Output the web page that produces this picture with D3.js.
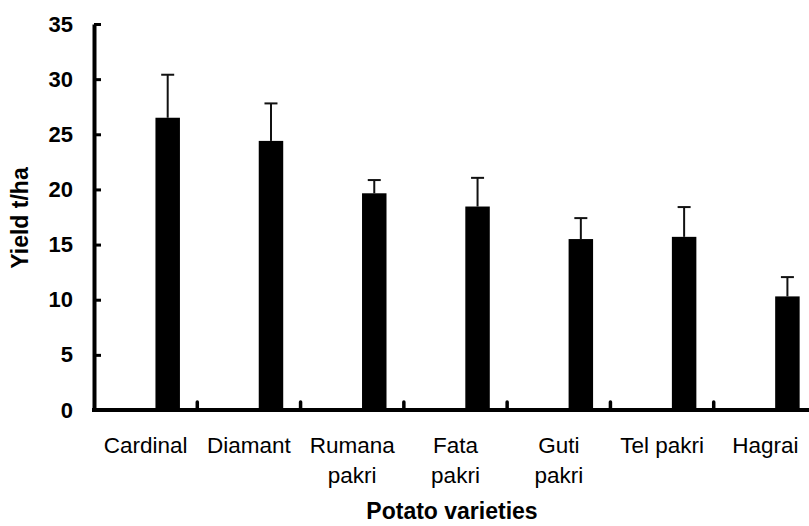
<!DOCTYPE html>
<html>
<head>
<meta charset="utf-8">
<script src="https://cdn.jsdelivr.net/npm/d3@7/dist/d3.min.js"></script>
<style>
  html, body { margin: 0; padding: 0; background: #fff; }
  svg { display: block; }
  text { font-family: "Liberation Sans", Arial, sans-serif; fill: #000; }
</style>
</head>
<body>
<svg id="chart" width="809" height="526"></svg>
<script>
// Potato variety yields (t/ha) with error bars
const varieties = ["Cardinal", "Diamant", "Rumana\npakri", "Fata\npakri", "Guti\npakri", "Tel pakri", "Hagrai"];
const yieldMeans = [26.5, 24.4, 19.65, 18.45, 15.5, 15.7, 10.3];
const yieldErrors = [3.9, 3.4, 1.2, 2.6, 1.9, 2.7, 1.75];
const yTicks = [0, 5, 10, 15, 20, 25, 30, 35];

const svg = d3.select("#chart");
const plotLeft = 94, plotRight = 817, plotTop = 24, plotBottom = 410;

const x = d3.scaleBand().domain(varieties).range([plotLeft, plotRight]).paddingInner(0).paddingOuter(0);
const y = d3.scaleLinear().domain([0, 35]).range([plotBottom, plotTop]);

// bars sit in the right-hand part of each category slot
const barStart = 0.595, barWidth = 0.237;
const bw = x.bandwidth() * barWidth;
const barX = d => x(d) + x.bandwidth() * barStart;

const data = varieties.map((v, i) => ({ name: v, mean: yieldMeans[i], err: yieldErrors[i] }));

// error bars (drawn first, bars cover the lower part)
const eb = svg.append("g").attr("stroke", "#111").attr("stroke-width", 2);
eb.selectAll("line.stem").data(data).join("line")
  .attr("class", "stem")
  .attr("x1", d => barX(d.name) + bw / 2).attr("x2", d => barX(d.name) + bw / 2)
  .attr("y1", d => y(d.mean)).attr("y2", d => y(d.mean + d.err));
eb.selectAll("line.cap").data(data).join("line")
  .attr("class", "cap")
  .attr("x1", d => barX(d.name) + bw / 2 - 6.5).attr("x2", d => barX(d.name) + bw / 2 + 6.5)
  .attr("y1", d => y(d.mean + d.err)).attr("y2", d => y(d.mean + d.err));

svg.append("g").selectAll("rect").data(data).join("rect")
  .attr("x", d => barX(d.name))
  .attr("width", bw)
  .attr("y", d => y(d.mean))
  .attr("height", d => y(0) - y(d.mean))
  .attr("fill", "#000");

// y axis with inward ticks
const yAxis = svg.append("g")
  .attr("transform", `translate(${plotLeft},0)`)
  .call(d3.axisLeft(y).tickValues(yTicks).tickSize(-7).tickSizeOuter(0).tickPadding(21));
yAxis.select(".domain").attr("stroke", "#000").attr("stroke-width", 4);
yAxis.selectAll(".tick line").attr("stroke", "#000").attr("stroke-width", 3);
yAxis.selectAll(".tick text")
  .style("font-family", "'Liberation Sans', Arial, sans-serif")
  .style("font-size", "22px").style("font-weight", "bold").attr("fill", "#000");

// x axis line with small separators between categories
svg.append("line")
  .attr("x1", plotLeft - 2).attr("x2", plotRight)
  .attr("y1", plotBottom).attr("y2", plotBottom)
  .attr("stroke", "#000").attr("stroke-width", 4);
svg.append("g").selectAll("line").data(varieties.slice(1)).join("line")
  .attr("x1", d => x(d)).attr("x2", d => x(d))
  .attr("y1", plotBottom).attr("y2", plotBottom - 8)
  .attr("stroke", "#000").attr("stroke-width", 3.5).attr("stroke-linecap", "round");

// category labels
const lab = svg.append("g").selectAll("text").data(varieties).join("text")
  .attr("text-anchor", "middle")
  .attr("x", d => x(d) + x.bandwidth() / 2)
  .attr("y", 453)
  .style("font-size", "22.5px");
lab.selectAll("tspan").data(d => d.split("\n").map(t => ({ t, x: x(d) + x.bandwidth() / 2 }))).join("tspan")
  .attr("x", d => d.x)
  .attr("dy", (d, i) => i === 0 ? 0 : 30)
  .text(d => d.t);

// axis titles
svg.append("text")
  .attr("x", 452).attr("y", 519)
  .attr("text-anchor", "middle")
  .style("font-size", "23px").style("font-weight", "bold")
  .text("Potato varieties");

svg.append("text")
  .attr("transform", "translate(28,218) rotate(-90)")
  .attr("text-anchor", "middle")
  .style("font-size", "23px").style("font-weight", "bold")
  .text("Yield t/ha");
</script>
</body>
</html>
